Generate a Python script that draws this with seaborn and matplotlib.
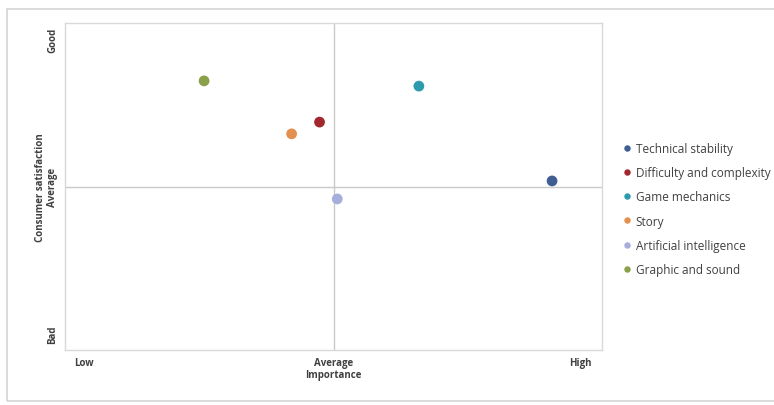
import matplotlib
matplotlib.use("Agg")
import matplotlib.pyplot as plt
from matplotlib.patches import Rectangle
import seaborn as sns
import pandas as pd

# Game aspects placed on an importance / satisfaction grid (0-10 scale, 5 = average)
aspects = ["Technical stability", "Difficulty and complexity", "Game mechanics",
           "Story", "Artificial intelligence", "Graphic and sound"]
importance = [9.07, 4.74, 6.59, 4.22, 5.07, 2.59]
satisfaction = [5.17, 6.97, 8.07, 6.61, 4.62, 8.23]
colors = ["#3F5F93", "#A3272F", "#2E9AAE", "#E3904E", "#A6AEDB", "#8AA04A"]

x_ticks = [0.35, 5.0, 9.59]
x_ticklabels = ["Low", "Average", "High"]
y_ticks = [0.49, 5.0, 9.51]
y_ticklabels = ["Bad", "Average", "Good"]

df = pd.DataFrame({"aspect": aspects, "importance": importance,
                   "satisfaction": satisfaction})

sns.set_theme(style="white")
plt.rcParams["font.family"] = ["Open Sans", "DejaVu Sans"]

fig = plt.figure(figsize=(7.74, 4.06), dpi=100)
W, H = 774, 406
ax = fig.add_axes([65 / W, 1 - 351 / H, (602 - 65) / W, (351 - 24) / H])

# outer chart frame
fig.patches.append(Rectangle((7 / W, 1 - 402 / H), 1.0, (402 - 10) / H,
                             transform=fig.transFigure, fill=False,
                             edgecolor="#D4D4D4", linewidth=1.2, zorder=0))

ax.axvline(5, color="#C9C9C9", linewidth=1.0, zorder=1)
ax.axhline(5, color="#C9C9C9", linewidth=1.0, zorder=1)

sns.scatterplot(data=df, x="importance", y="satisfaction", hue="aspect",
                hue_order=aspects, palette=colors, s=60, edgecolor="none",
                ax=ax, zorder=3)

ax.set_xlim(0, 10)
ax.set_ylim(0, 10)
ax.set_xticks(x_ticks)
ax.set_xticklabels(x_ticklabels, fontsize=7, fontweight="bold", color="#404040")
ax.set_yticks(y_ticks)
ax.set_yticklabels(y_ticklabels, fontsize=7, fontweight="bold", color="#404040",
                   rotation=90, va="center")
ax.tick_params(axis="both", length=0, pad=5)
ax.set_xlabel("Importance", fontsize=7, fontweight="bold", color="#404040",
              labelpad=1)
ax.set_ylabel("Consumer satisfaction", fontsize=7, fontweight="bold",
              color="#404040", labelpad=1)
for sp in ax.spines.values():
    sp.set_color("#D9D9D9")
    sp.set_linewidth(1.0)

ax.legend(title=None, loc="center left", bbox_to_anchor=(605 / W, 1 - 210 / H),
          bbox_transform=fig.transFigure, frameon=False, fontsize=8.5,
          markerscale=0.6, handletextpad=-0.3, labelspacing=0.95,
          labelcolor="#404040")

fig.savefig("out.png", dpi=100)
